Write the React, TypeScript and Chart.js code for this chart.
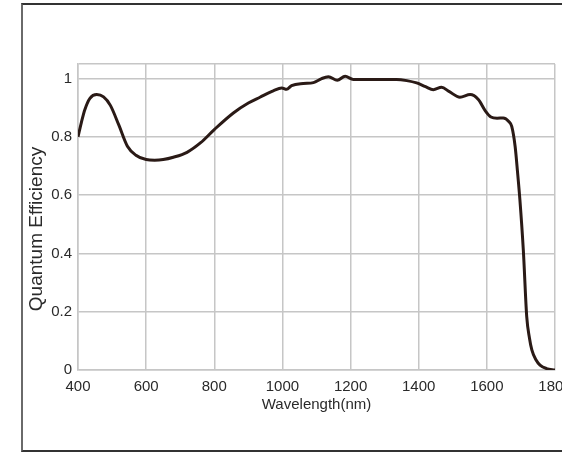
import React, { useEffect, useRef } from "react";
import { Chart, registerables } from "chart.js";

Chart.register(...registerables);

// Wavelength (nm) and quantum efficiency
const wavelengths = [
  400, 410, 420, 435, 455, 475, 495, 520, 545, 570, 600, 625, 650, 680, 720, 760,
  800, 856, 900, 934, 973, 998, 1012, 1027, 1061, 1091, 1115, 1135, 1161, 1184,
  1208, 1250, 1300, 1335, 1365, 1394, 1420, 1443, 1467, 1490, 1521, 1551, 1575,
  1595, 1612, 1630, 1648, 1665, 1673, 1683, 1690, 1697, 1707, 1717, 1725, 1732,
  1744, 1756, 1775, 1800,
];
const efficiency = [
  0.8, 0.85, 0.893, 0.932, 0.945, 0.937, 0.908, 0.84, 0.768, 0.737, 0.722, 0.72,
  0.722, 0.73, 0.747, 0.78, 0.825, 0.882, 0.916, 0.936, 0.958, 0.968, 0.963,
  0.976, 0.983, 0.986, 1.0, 1.006, 0.994, 1.008, 0.997, 0.997, 0.997, 0.997,
  0.993, 0.985, 0.972, 0.962, 0.97, 0.955, 0.936, 0.945, 0.928, 0.89, 0.868,
  0.864, 0.865, 0.852, 0.836, 0.767, 0.68, 0.584, 0.412, 0.183, 0.11, 0.069,
  0.035, 0.017, 0.005, 0.0,
];
const xTicks = [400, 600, 800, 1000, 1200, 1400, 1600, 1800];
const yTicks = [0, 0.2, 0.4, 0.6, 0.8, 1];
const yTop = 1.05;
const xTitle = "Wavelength(nm)";
const yTitle = "Quantum Efficiency";

const FONT = "'Liberation Sans', Arial, Helvetica, sans-serif";

const yTitlePlugin = {
  id: "yTitle",
  afterDraw(chart: any) {
    const { ctx, chartArea } = chart;
    ctx.save();
    ctx.translate(37, (chartArea.top + chartArea.bottom) / 2 + 12);
    ctx.rotate(-Math.PI / 2);
    ctx.font = `19px ${FONT}`;
    ctx.fillStyle = "#2a2a2a";
    ctx.textAlign = "center";
    ctx.textBaseline = "middle";
    ctx.fillText(yTitle, 0, 0);
    ctx.restore();
  },
};

export default function App() {
  const ref = useRef<HTMLCanvasElement | null>(null);

  useEffect(() => {
    if (!ref.current) return;
    const chart = new Chart(ref.current, {
      type: "line",
      data: {
        datasets: [
          {
            data: wavelengths.map((w, i) => ({ x: w, y: efficiency[i] })),
            borderColor: "#2a1a16",
            borderWidth: 3,
            pointRadius: 0,
            cubicInterpolationMode: "monotone",
            fill: false,
          },
        ],
      },
      options: {
        responsive: false,
        animation: false,
        devicePixelRatio: 1,
        layout: { padding: { left: 0, top: 64, right: 7, bottom: 0 } },
        plugins: { legend: { display: false }, tooltip: { enabled: false } },
        scales: {
          x: {
            type: "linear",
            min: 400,
            max: 1800,
            afterBuildTicks: (s: any) => {
              s.ticks = xTicks.map((v) => ({ value: v }));
            },
            afterFit: (s: any) => {
              s.height = 82;
              s.paddingLeft = 0;
              s.paddingRight = 0;
            },
            grid: { color: "#c6c6c6", lineWidth: 1.5, drawTicks: false },
            border: { display: true, color: "#c6c6c6", width: 1.5 },
            ticks: {
              padding: 8,
              maxRotation: 0,
              autoSkip: false,
              color: "#2a2a2a",
              font: { family: FONT, size: 15 },
              callback: (v: any) => String(v),
            },
            title: {
              display: true,
              text: xTitle,
              color: "#2a2a2a",
              font: { family: FONT, size: 15 },
              padding: { top: 0, bottom: 38 },
            },
          },
          y: {
            min: 0,
            max: yTop,
            afterBuildTicks: (s: any) => {
              s.ticks = [...yTicks, yTop].map((v) => ({ value: v }));
            },
            afterFit: (s: any) => {
              s.width = 78;
              s.paddingTop = 0;
              s.paddingBottom = 0;
            },
            grid: { color: "#c6c6c6", lineWidth: 1.5, drawTicks: false },
            border: { display: true, color: "#c6c6c6", width: 1.5 },
            ticks: {
              padding: 6,
              autoSkip: false,
              color: "#2a2a2a",
              font: { family: FONT, size: 15 },
              callback: (v: any) => (yTicks.includes(v) ? String(v) : ""),
            },
            title: { display: false },
          },
        },
      },
      plugins: [yTitlePlugin],
    });
    return () => chart.destroy();
  }, []);

  return (
    <div
      style={{
        position: "fixed",
        left: 0,
        top: 0,
        width: 562,
        height: 452,
        overflow: "hidden",
        background: "#fff",
      }}
    >
      <div
        style={{
          position: "absolute",
          left: 21,
          top: 3,
          width: 600,
          height: 445,
          borderLeft: "2px solid #6a6a6a",
          borderTop: "2px solid #333",
          borderBottom: "2px solid #333",
        }}
      />
      <canvas
        ref={ref}
        width={562}
        height={452}
        style={{ position: "absolute", left: 0, top: 0, width: 562, height: 452 }}
      />
    </div>
  );
}
